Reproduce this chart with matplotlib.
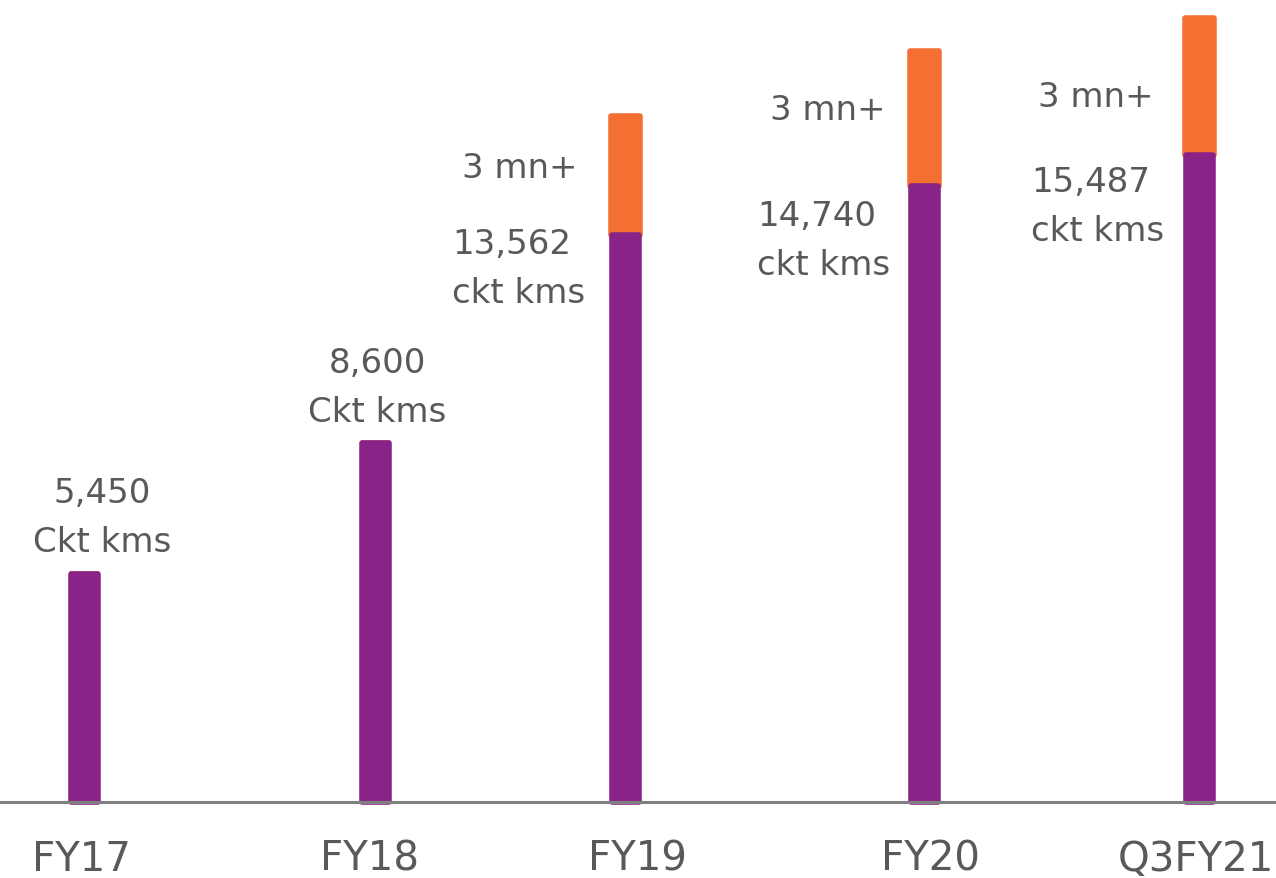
import matplotlib.pyplot as plt

periods = ['FY17', 'FY18', 'FY19', 'FY20', 'Q3FY21']
ckt_kms = [5450, 8600, 13562, 14740, 15487]
extra = [0, 0, 2850, 3230, 3280]
value_labels = ['5,450\nCkt kms', '8,600\nCkt kms', '13,562\nckt kms',
                '14,740\nckt kms', '15,487\nckt kms']
extra_labels = ['', '', '3 mn+', '3 mn+', '3 mn+']

PURPLE = '#8a2387'
ORANGE = '#f37032'
GREY = '#595959'
FONT = 'DejaVu Sans'

# layout, in pixels of the 1276x879 canvas
bar_x = [84, 375, 625, 924, 1199]
tick_x = [82, 369, 637, 930, 1196]
PX = 0.0418          # pixels per unit
BASE = 803           # baseline, pixels from top
H = 879


def yv(py):
    return (BASE - py) / PX


def main():
    fig = plt.figure(figsize=(12.76, 8.79), dpi=100)
    ax = fig.add_axes([0, 0, 1, 1])
    ax.set_xlim(0, 1276)
    ax.set_ylim(yv(H), yv(0))
    ax.axis('off')

    ax.bar(bar_x, ckt_kms, width=27, color=PURPLE, edgecolor=PURPLE,
           linewidth=4, joinstyle='round', zorder=2)
    ax.bar(bar_x, extra, bottom=ckt_kms, width=29, color=ORANGE,
           edgecolor=ORANGE, linewidth=4, joinstyle='round', zorder=1)
    ax.axhline(0, color='#7f7f7f', lw=2.2, zorder=3)

    for x, lab in zip(tick_x, periods):
        ax.text(x, yv(860), lab, ha='center', va='center', fontsize=29,
                color=GREY, family=FONT)

    # value labels: (x, y-center, align)
    pos = [(102, 518, 'center'), (377, 388, 'center'), (452, 269, 'left'),
           (757, 241, 'left'), (1031, 207, 'left')]
    for (x, y, ha), lab in zip(pos, value_labels):
        ax.text(x, yv(y), lab, ha=ha, va='center', fontsize=24.5,
                color=GREY, family=FONT, linespacing=1.6,
                multialignment=ha)

    epos = [None, None, (578, 169), (886, 111), (1153, 98)]
    for p, lab in zip(epos, extra_labels):
        if p is None:
            continue
        ax.text(p[0], yv(p[1]), lab, ha='right', va='center', fontsize=24.5,
                color=GREY, family=FONT)

    fig.savefig('out.png', dpi=100)


if __name__ == '__main__':
    main()
